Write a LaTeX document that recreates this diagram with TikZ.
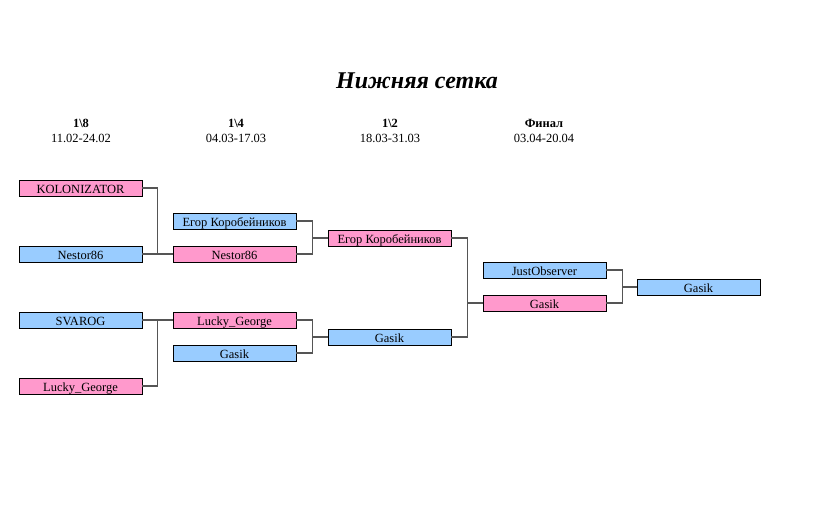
\documentclass[tikz,border=0pt]{standalone}
\usepackage{fontspec}
\setmainfont{Liberation Serif}
\definecolor{pinkc}{HTML}{FF99CC}
\definecolor{bluec}{HTML}{99CCFF}
\definecolor{linec}{HTML}{555555}
\begin{document}
\begin{tikzpicture}[x=1pt,y=-1pt,
  player/.style={draw=black,line width=0.8pt,minimum width=123pt,minimum height=16pt,inner sep=0pt,text height=11pt,text depth=1pt,font=\fontsize{12.5}{12}\selectfont,anchor=center},
  pk/.style={player,fill=pinkc},
  bl/.style={player,fill=bluec},
  conn/.style={draw=linec,line width=1.3pt},
  hdr/.style={align=center,font=\fontsize{12.5}{15}\selectfont}]
\useasboundingbox (0,0) rectangle (824,511);
\node[font=\fontsize{24}{26}\selectfont\bfseries\itshape] (title) at (417,81) {Нижняя сетка};
\node[hdr] (h1) at (81,131) {\textbf{1\textbackslash 8}\\11.02-24.02};
\node[hdr] (h2) at (236,131) {\textbf{1\textbackslash 4}\\04.03-17.03};
\node[hdr] (h3) at (390,131) {\textbf{1\textbackslash 2}\\18.03-31.03};
\node[hdr] (h4) at (544,131) {\textbf{Финал}\\03.04-20.04};
% column 1
\node[pk] (a1) at (80.5,188) {KOLONIZATOR};
\node[bl] (a2) at (80.5,254) {Nestor86};
\node[bl] (a3) at (80.5,320) {SVAROG};
\node[pk] (a4) at (80.5,386) {Lucky\_George};
% column 2
\node[bl] (b1) at (234.5,221) {Егор Коробейников};
\node[pk] (b2) at (234.5,254) {Nestor86};
\node[pk] (b3) at (234.5,320) {Lucky\_George};
\node[bl] (b4) at (234.5,353) {Gasik};
% column 3
\node[pk] (c1) at (389.5,238) {Егор Коробейников};
\node[bl] (c2) at (389.5,337) {Gasik};
% column 4
\node[bl] (d1) at (544.5,270) {JustObserver};
\node[pk] (d2) at (544.5,303) {Gasik};
% column 5
\node[bl] (e1) at (698.5,287) {Gasik};
% connectors
\draw[conn] (a1.east) -- ++(15,0) |- (a2.east);
\draw[conn] (a2.east) -- (b2.west);
\draw[conn] (a3.east) -- ++(15,0) |- (a4.east);
\draw[conn] (a3.east) -- (b3.west);
\draw[conn] (b1.east) -- ++(16,0) |- (b2.east);
\draw[conn] (b1.east) ++(16,0) |- (c1.west);
\draw[conn] (b3.east) -- ++(16,0) |- (b4.east);
\draw[conn] (b3.east) ++(16,0) |- (c2.west);
\draw[conn] (c1.east) -- ++(16,0) |- (c2.east);
\draw[conn] (c1.east) ++(16,0) |- (d2.west);
\draw[conn] (d1.east) -- ++(16,0) |- (d2.east);
\draw[conn] (d1.east) ++(16,0) |- (e1.west);
\end{tikzpicture}
\end{document}
